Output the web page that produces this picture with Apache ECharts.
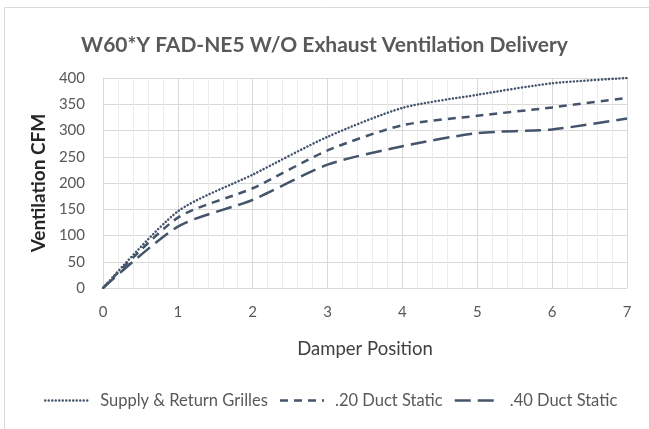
<!DOCTYPE html>
<html><head><meta charset="utf-8">
<script src="https://cdn.jsdelivr.net/npm/echarts@6/dist/echarts.min.js"></script>
<style>html,body{margin:0;padding:0;background:#fff}#c{width:649px;height:429px}</style>
</head><body><div id="c"></div>
<script>
var positions = [0, 1, 2, 3, 4, 5, 6, 7];
var supplyReturn = [0, 146, 216, 288, 343, 368, 390, 400];
var duct20 = [0, 134, 190, 262, 310, 328, 344, 362];
var duct40 = [0, 117, 168, 235, 270, 295, 302, 323];
var yTicks = [0, 50, 100, 150, 200, 250, 300, 350, 400];
var xTicks = [0, 1, 2, 3, 4, 5, 6, 7];
var seriesNames = ['Supply & Return Grilles', '.20 Duct Static', '.40 Duct Static'];

function pairs(v){ return positions.map(function(x,i){return [x, v[i]];}); }
var color = '#44546A';
var font = 'Lato, "Open Sans", sans-serif';
var chart = echarts.init(document.getElementById('c'), null, {renderer:'canvas'});
var dashes = [[0.1, 3.4], [8, 6], [16, 7]];
var vals = [supplyReturn, duct20, duct40];
chart.setOption({
  animation:false,
  backgroundColor:'#fff',
  graphic:[{type:'rect', shape:{x:4.5,y:7.5,width:700,height:500}, style:{fill:'none', stroke:'#d9d9d9', lineWidth:1}, silent:true}],
  title:{text:'W60*Y FAD-NE5 W/O Exhaust Ventilation Delivery', left:'center', top:30,
    textStyle:{fontFamily:font, fontSize:21, fontWeight:'bold', color:'#595959'}},
  grid:{left:103, right:22, top:78, bottom:141},
  legend:{bottom:15, left:39, itemWidth:44, itemHeight:10, itemGap:11,
    itemStyle:{opacity:0},
    lineStyle:{width:2.4},
    textStyle:{fontFamily:font, fontSize:16.5, color:'#595959', padding:[0,0,0,6]},
    data:seriesNames},
  xAxis:{type:'value', min:0, max:7, interval:1,
    name:'Damper Position', nameLocation:'middle', nameGap:52,
    nameTextStyle:{fontFamily:font, fontSize:18.5, color:'#404040'},
    axisLine:{show:true, lineStyle:{color:'#d9d9d9'}}, axisTick:{show:false},
    axisLabel:{fontFamily:font, fontSize:15, color:'#595959', margin:17,
      formatter:function(v){return xTicks.indexOf(v)>=0 ? String(v) : '';}},
    splitLine:{show:true, lineStyle:{color:'#d9d9d9'}},
    minorTick:{show:false, splitNumber:5},
    minorSplitLine:{show:true, lineStyle:{color:'#ececec'}}},
  yAxis:{type:'value', min:0, max:400, interval:50,
    name:'Ventilation CFM', nameLocation:'middle', nameGap:47,
    nameTextStyle:{fontFamily:font, fontSize:19, fontWeight:'bold', color:'#262626'},
    axisLine:{show:false}, axisTick:{show:false},
    axisLabel:{fontFamily:font, fontSize:15, color:'#595959', margin:18,
      formatter:function(v){return yTicks.indexOf(v)>=0 ? String(v) : '';}},
    splitLine:{show:true, lineStyle:{color:'#d9d9d9'}}},
  series: seriesNames.map(function(n,i){
    return {name:n, type:'line', data:pairs(vals[i]), smooth:0.25, symbol:'none',
      itemStyle:{color:color},
      lineStyle:{color:color, width:2.5, type:dashes[i], cap: i===0?'round':'butt'}};
  })
});
</script></body></html>
